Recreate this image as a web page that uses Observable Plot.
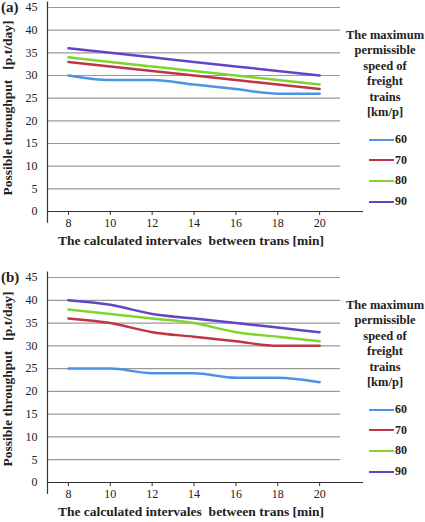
<!DOCTYPE html>
<html>
<head>
<meta charset="utf-8">
<script src="https://cdn.jsdelivr.net/npm/d3@7"></script>
<script src="https://cdn.jsdelivr.net/npm/@observablehq/plot@0.6"></script>
<style>
  html, body { margin: 0; padding: 0; background: #fff; }
  #root { position: relative; width: 425px; height: 522px; font-family: "Times New Roman", Times, "Liberation Serif", "Noto Serif", "DejaVu Serif", serif; color: #222; }
  .panel { position: absolute; left: 0; width: 425px; }
  .abs { position: absolute; white-space: nowrap; }
  .tag { font-weight: bold; font-size: 15px; }
  .xt { font-weight: bold; font-size: 13.5px; text-align: center; width: 340px; }
  .yt { font-weight: bold; font-size: 13.5px; text-align: center; width: 220px; transform: rotate(-90deg); transform-origin: center center; }
  .lt { font-weight: bold; font-size: 12.5px; text-align: center; width: 84px; line-height: 15.4px; }
  .li { font-weight: bold; font-size: 12px; display: flex; align-items: center; }
  .li span.sw { display: inline-block; width: 25px; height: 2px; margin-right: 1px; }
</style>
</head>
<body>
<div id="root"></div>
<script>
// ---- data ----
const intervals = [8, 10, 12, 14, 16, 18, 20];
const speeds = ["60", "70", "80", "90"];
const colors = ["#4a94e6", "#c23248", "#7fd62a", "#6244c4"];
const yTicks = [0, 5, 10, 15, 20, 25, 30, 35, 40, 45];

// panel (a)
const a60 = [30, 29, 29, 28, 27, 26, 26];
const a70 = [33, 32, 31, 30, 29, 28, 27];
const a80 = [34, 33, 32, 31, 30, 29, 28];
const a90 = [36, 35, 34, 33, 32, 31, 30];
// panel (b)
const b60 = [25, 25, 24, 24, 23, 23, 22];
const b70 = [36, 35, 33, 32, 31, 30, 30];
const b80 = [38, 37, 36, 35, 33, 32, 31];
const b90 = [40, 39, 37, 36, 35, 34, 33];

const xTitle = "The calculated intervales\u00a0 between trans [min]";
const yTitle = "Possible throughput\u00a0\u00a0 [p.t/day]";
const legendTitle = ["The maximum", "permissible", "speed of", "freight", "trains", "[km/p]"];

const serif = '"Times New Roman", Times, "Liberation Serif", "Noto Serif", "DejaVu Serif", serif';

function table(series) {
  const rows = [];
  series.forEach((vals, si) => vals.forEach((v, i) => rows.push({x: intervals[i], y: v, speed: speeds[si]})));
  return rows;
}

function panel(tag, series, top, height, marginTop, marginBottom) {
  const div = document.createElement("div");
  div.className = "panel";
  div.style.top = top + "px";
  div.style.height = height + "px";
  const data = table(series);
  const chart = Plot.plot({
    width: 425,
    height,
    marginLeft: 47,
    marginRight: 64,
    marginTop,
    marginBottom,
    style: {fontFamily: serif, fontSize: "12px", color: "#222", background: "transparent"},
    x: {domain: [7, 22]},
    y: {domain: [0, 45]},
    color: {domain: speeds, range: colors},
    marks: [
      Plot.ruleY(yTicks.filter(d => d > 0), {x1: 7, x2: 21, stroke: "#9a9a9a", strokeWidth: 1.2}),
      Plot.ruleY([0], {x1: 7, x2: 22.1, stroke: "#333", strokeWidth: 1.2}),
      Plot.ruleX([7], {y1: -2.6, y2: 46.2, stroke: "#333", strokeWidth: 1.2}),
      Plot.axisX({ticks: intervals, tickSize: 4, tickPadding: 3, label: null, stroke: "#333"}),
      Plot.axisY({ticks: yTicks, tickSize: 0, tickPadding: 10, label: null}),
      Plot.line(data, {x: "x", y: "y", z: "speed", stroke: "speed", strokeWidth: 2.5, curve: "monotone-x"})
    ]
  });
  div.appendChild(chart);

  const t = document.createElement("div");
  t.className = "abs tag"; t.textContent = tag;
  t.style.left = "1px"; t.style.top = (marginTop - 8) + "px";
  div.appendChild(t);

  const xt = document.createElement("div");
  xt.className = "abs xt"; xt.textContent = xTitle;
  xt.style.left = (191 - 170) + "px"; xt.style.top = (height - marginBottom + 22) + "px";
  div.appendChild(xt);

  const yt = document.createElement("div");
  yt.className = "abs yt"; yt.textContent = yTitle;
  const cy = (marginTop + height - marginBottom) / 2;
  yt.style.left = (8 - 110) + "px"; yt.style.top = (cy - 9) + "px";
  div.appendChild(yt);

  const lt = document.createElement("div");
  lt.className = "abs lt";
  lt.innerHTML = legendTitle.join("<br>");
  lt.style.left = (385 - 42) + "px"; lt.style.top = (marginTop + 21) + "px";
  div.appendChild(lt);

  speeds.forEach((s, i) => {
    const li = document.createElement("div");
    li.className = "abs li";
    li.innerHTML = `<span class="sw" style="background:${colors[i]}"></span>${s}`;
    li.style.left = "369px";
    li.style.top = (marginTop + 125 + i * 20.7) + "px";
    div.appendChild(li);
  });
  return div;
}

const root = document.getElementById("root");
root.appendChild(panel("(a)", [a60, a70, a80, a90], 0, 250, 7, 39));
root.appendChild(panel("(b)", [b60, b70, b80, b90], 255, 267, 22, 40));
</script>
</body>
</html>
